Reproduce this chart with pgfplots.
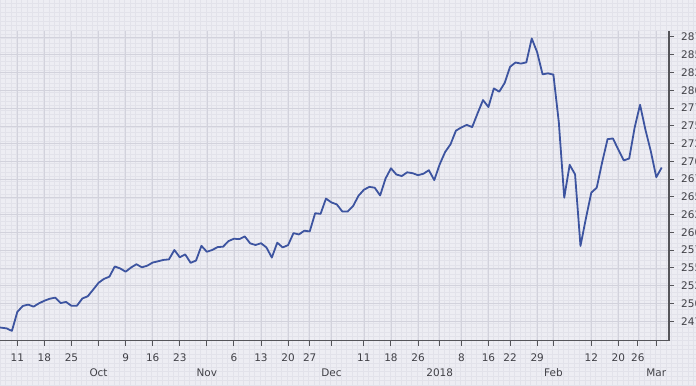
\documentclass[border=0pt]{standalone}
\usepackage{pgfplots}
\pgfplotsset{compat=1.18}
\usepackage{fontspec}
\setmainfont{DejaVu Sans}
\definecolor{bg}{RGB}{237,237,243}
\definecolor{gridmaj}{RGB}{210,210,220}
\definecolor{gridmin}{RGB}{226,226,234}
\definecolor{linec}{RGB}{61,84,160}
\definecolor{axc}{RGB}{85,85,90}
\definecolor{txt}{RGB}{64,64,70}
\begin{document}
\begin{tikzpicture}[x=1bp,y=1bp]
\useasboundingbox (0,0) rectangle (696,385);
\clip (0,0) rectangle (696,385);
\fill[bg] (0,0) rectangle (696,385);
\draw[gridmin, line width=0.4bp, xstep=5.415, ystep=4.44] (0,0) grid (696,385);
\begin{axis}[
  at={(0,62.5)}, anchor=south west,
  width=669bp, height=309.3bp, scale only axis,
  xmin=-3.2, xmax=120.35, ymin=2447.8, ymax=2883,
  axis x line*=bottom, axis y line*=right,
  axis line style={axc, line width=1.2bp, -},
  tick align=outside, major tick length=5bp,
  tick style={axc, line width=1bp},
  xtick={0,5,10,15,20,25,30,35,40,45,50,54,58,64,69,74,78,82,87,91,96,99,106,111,114.6,118},
  xticklabels={11,18,25,{\smash{\raisebox{-15bp}{Oct}}},9,16,23,{\smash{\raisebox{-15bp}{Nov}}},6,13,20,27,{\smash{\raisebox{-15bp}{Dec}}},11,18,26,{\smash{\raisebox{-15bp}{2018}}},8,16,22,29,{\smash{\raisebox{-15bp}{Feb}}},12,20,26,{\smash{\raisebox{-15bp}{Mar}}}},
  ytick={2475,2500,...,2875},
  yticklabels={2475,2500,2525,2550,2575,2600,2625,2650,2675,2700,2725,2750,2775,2800,2825,2850,2875},
  grid=major, major grid style={gridmaj, line width=0.6bp},
  xticklabel style={font=\fontsize{10.5}{12}\selectfont, text=txt, anchor=north, inner sep=0bp, text height=7.6bp, text depth=0bp, yshift=-8.6bp},
  yticklabel style={font=\fontsize{10.5}{12}\selectfont, text=txt, anchor=west, inner sep=0bp, xshift=7bp},
  clip=true,
]
\addplot[linec, line width=1.8bp, line join=round] table {
-4 2467
-3 2466
-2 2465
-1 2461.4
0 2488.1
1 2496.5
2 2498.4
3 2495.6
4 2500.2
5 2503.9
6 2506.7
7 2508.2
8 2500.6
9 2502.2
10 2496.7
11 2496.8
12 2507.0
13 2510.1
14 2519.4
15 2529.1
16 2534.6
17 2537.7
18 2552.1
19 2549.3
20 2544.7
21 2550.6
22 2555.2
23 2550.9
24 2553.2
25 2557.6
26 2559.4
27 2561.3
28 2562.1
29 2575.2
30 2565.0
31 2569.1
32 2557.2
33 2560.4
34 2581.1
35 2572.8
36 2575.3
37 2579.4
38 2579.9
39 2587.8
40 2591.1
41 2590.6
42 2594.4
43 2584.6
44 2582.3
45 2584.8
46 2578.9
47 2564.6
48 2585.6
49 2578.9
50 2582.1
51 2599.0
52 2597.1
53 2602.4
54 2601.4
55 2627.0
56 2626.1
57 2647.6
58 2642.2
59 2639.4
60 2629.6
61 2629.3
62 2637.0
63 2651.5
64 2660.0
65 2664.1
66 2662.9
67 2652.0
68 2675.8
69 2690.2
70 2681.5
71 2679.3
72 2684.6
73 2683.3
74 2680.5
75 2682.6
76 2687.5
77 2673.6
78 2695.8
79 2713.1
80 2724.0
81 2743.2
82 2747.7
83 2751.3
84 2748.2
85 2767.6
86 2786.2
87 2776.4
88 2802.6
89 2798.0
90 2810.3
91 2833.0
92 2839.1
93 2837.5
94 2839.3
95 2872.9
96 2853.5
97 2822.4
98 2823.8
99 2822.0
100 2755.0
101 2648.9
102 2695.1
103 2681.7
104 2581.0
105 2619.6
106 2656.0
107 2662.9
108 2698.6
109 2731.2
110 2732.2
111 2716.3
112 2701.3
113 2704.0
114 2747.3
115 2779.6
116 2744.3
117 2713.8
118 2677.7
119 2691.3
};
\node[fill=linec, text=white, anchor=west, inner xsep=3bp, inner ysep=1.5bp, text height=7.6bp, text depth=0bp, xshift=1.5bp, font=\fontsize{10.5}{12}\selectfont] at (axis cs:120.35,2695) {2691};
\end{axis}
\end{tikzpicture}
\end{document}
